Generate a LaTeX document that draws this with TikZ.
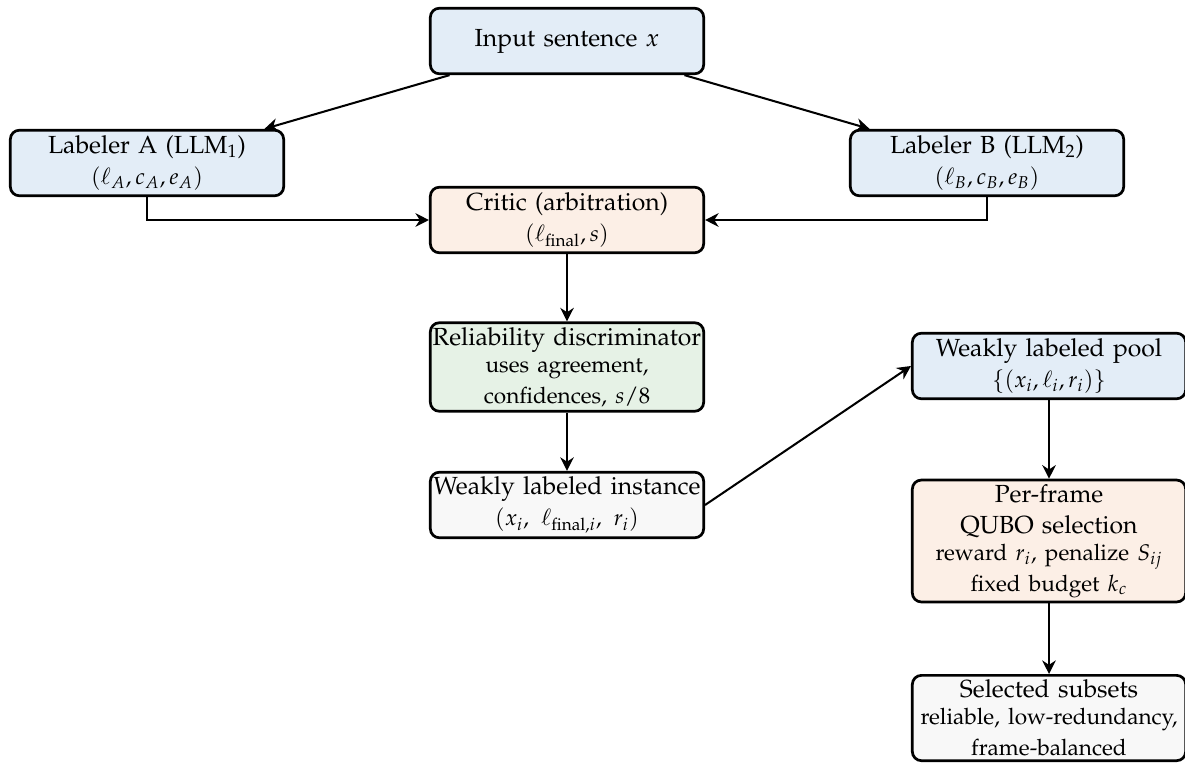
\documentclass[tikz,border=0pt,11pt]{standalone}
\usepackage[T1]{fontenc}
\usepackage{mathpazo}
\usepackage{tikz}
\usetikzlibrary{arrows.meta}
\definecolor{boxblue}{HTML}{E3EDF7}
\definecolor{boxorange}{HTML}{FCEFE6}
\definecolor{boxgreen}{HTML}{E6F2E6}
\definecolor{boxgray}{HTML}{F8F8F8}
\hyphenpenalty=10000

\begin{document}
\begin{tikzpicture}[x=0.01555cm,y=-0.01555cm,
    stagebox/.style={draw=black, line width=1.2pt, rounded corners=4pt,
      minimum width=4.25cm, minimum height=29pt, text width=4.2cm,
      align=center, inner xsep=0.5pt, inner ysep=2pt},
    flow/.style={-{Stealth[length=6pt,width=6pt]}, line width=0.9pt}]
    \path[use as bounding box] (0,0) rectangle (1185,763);

    % Input and the two labelers.
    \node[stagebox, fill=boxblue] (input) at (567,41) {Input sentence $x$};
    \node[stagebox, fill=boxblue] (labA) at (147,163)
      {Labeler A (LLM$_1$)\\ {\small $(\ell_A, c_A, e_A)$}};
    \node[stagebox, fill=boxblue] (labB) at (987,163)
      {Labeler B (LLM$_2$)\\ {\small $(\ell_B, c_B, e_B)$}};

    % Left column: arbitration and reliability.
    \node[stagebox, fill=boxorange] (critic) at (567,220)
      {Critic (arbitration)\\ {\small $(\ell_{\mathrm{final}}, s)$}};
    \node[stagebox, fill=boxgreen] (reliab) at (567,367)
      {Reliability discriminator\\ {\small uses agreement,\\ confidences, $s/8$}};
    \node[stagebox, fill=boxgray] (instance) at (567,505)
      {Weakly labeled instance\\ {\small $(x_i,\ \ell_{\mathrm{final},i},\ r_i)$}};

    % Right column: pool and selection.
    \node[stagebox, fill=boxblue] (pool) at (1049,366)
      {Weakly labeled pool\\ {\small $\{(x_i, \ell_i, r_i)\}$}};
    \node[stagebox, fill=boxorange] (qubo) at (1049,541)
      {Per-frame\\ QUBO selection\\ {\small reward $r_i$, penalize $S_{ij}$\\ fixed budget $k_c$}};
    \node[stagebox, fill=boxgray] (subsets) at (1049,718)
      {Selected subsets\\ {\small reliable, low-redundancy,\\ frame-balanced}};

    % Connectors.
    \foreach \src/\dst in {input/labA,input/labB,critic/reliab,
      reliab/instance,pool/qubo,qubo/subsets} {
      \draw[flow] (\src) -- (\dst);
    }
    \draw[flow] (labA.south) |- (critic.west);
    \draw[flow] (labB.south) |- (critic.east);
    \draw[flow] (instance.east) -- (pool.west);
  \end{tikzpicture}
\end{document}
